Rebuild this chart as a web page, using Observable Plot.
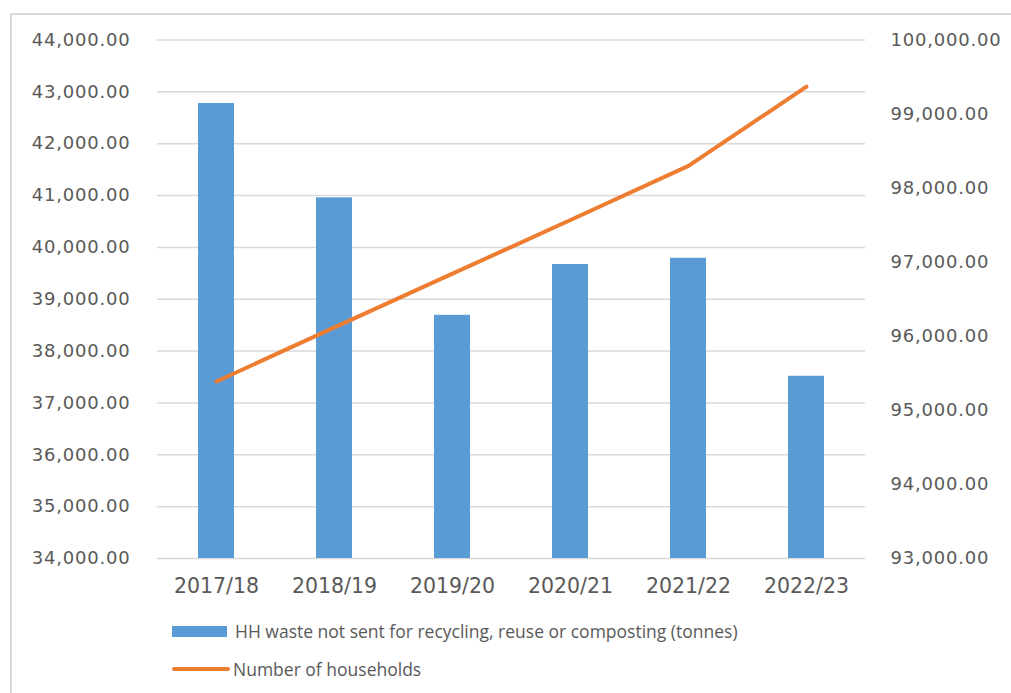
<!DOCTYPE html>
<html>
<head>
<meta charset="utf-8">
<script src="https://cdn.jsdelivr.net/npm/d3@7"></script>
<script src="https://cdn.jsdelivr.net/npm/@observablehq/plot@0.6"></script>
<style>
  html, body { margin: 0; padding: 0; background: #ffffff; }
  body { width: 1011px; height: 693px; position: relative; overflow: hidden; }
  #frame { position: absolute; left: 10px; top: 13px; width: 1100px; height: 800px; border: 2px solid #d9d9d9; box-sizing: border-box; }
  #chart { position: absolute; left: 0; top: 0; }
  #chart svg g[aria-label="y-axis tick label"] text { letter-spacing: 0.8px; }
  .legend-item { position: absolute; display: flex; align-items: center; font-family: "Open Sans", sans-serif; font-size: 17.5px; color: #595959; white-space: nowrap; }
  .swatch-bar { width: 55px; height: 11px; background: #5b9bd5; margin-right: 8px; }
  .swatch-line { width: 58px; height: 4px; border-radius: 2px; background: #ed7d31; margin-right: 3px; }
</style>
</head>
<body>
<div id="frame"></div>
<div id="chart"></div>
<div class="legend-item" style="left:172px; top:619px;"><div class="swatch-bar"></div><span>HH waste not sent for recycling, reuse or composting (tonnes)</span></div>
<div class="legend-item" style="left:172px; top:657px;"><div class="swatch-line"></div><span>Number of households</span></div>
<script>
// Financial years
const years = ["2017/18", "2018/19", "2019/20", "2020/21", "2021/22", "2022/23"];
// Household waste not sent for recycling, reuse or composting (tonnes) — left axis
const wasteTonnes = [42775, 40955, 38690, 39670, 39790, 37515];
// Number of households — right axis
const households = [95390, 96120, 96845, 97570, 98300, 99370];
// Axis ticks
const leftTicks = [34000, 35000, 36000, 37000, 38000, 39000, 40000, 41000, 42000, 43000, 44000];
const rightTicks = [93000, 94000, 95000, 96000, 97000, 98000, 99000, 100000];

// Left and right axis ranges; the right series is mapped onto the left y scale
const leftDomain = [34000, 44000];
const rightDomain = [93000, 100000];
const toLeft = v => leftDomain[0] + (v - rightDomain[0]) * (leftDomain[1] - leftDomain[0]) / (rightDomain[1] - rightDomain[0]);
const toRight = v => rightDomain[0] + (v - leftDomain[0]) * (rightDomain[1] - rightDomain[0]) / (leftDomain[1] - leftDomain[0]);

const fmt = d3.format(",.2f");

const rows = years.map((year, i) => ({year, waste: wasteTonnes[i], households: households[i]}));

const chart = Plot.plot({
  width: 1011,
  height: 600,
  marginLeft: 157,
  marginRight: 146,
  marginTop: 39.5,
  marginBottom: 42,
  style: {background: "transparent", color: "#595959", fontFamily: "'DejaVu Sans', sans-serif"},
  x: {domain: years, paddingInner: 0.695, paddingOuter: 0.3475, axis: null},
  y: {domain: leftDomain, axis: null},
  marks: [
    Plot.gridY(leftTicks, {stroke: "#d9d9d9", strokeOpacity: 1, strokeWidth: 1.5}),
    Plot.axisY(leftTicks, {anchor: "left", label: null, tickSize: 0, tickPadding: 27, tickFormat: fmt, fontSize: 18}),
    Plot.axisY(rightTicks.map(toLeft), {anchor: "right", label: null, tickSize: 0, tickPadding: 25, tickFormat: d => fmt(Math.round(toRight(d))), fontSize: 18}),
    Plot.axisX({label: null, tickSize: 0, tickPadding: 20, fontSize: 20.5}),
    Plot.barY(rows, {x: "year", y1: leftDomain[0], y2: "waste", fill: "#5b9bd5"}),
    Plot.line(rows, {x: "year", y: d => toLeft(d.households), stroke: "#ed7d31", strokeWidth: 4, strokeLinecap: "round", strokeLinejoin: "round"})
  ]
});

document.getElementById("chart").appendChild(chart);
</script>
</body>
</html>
